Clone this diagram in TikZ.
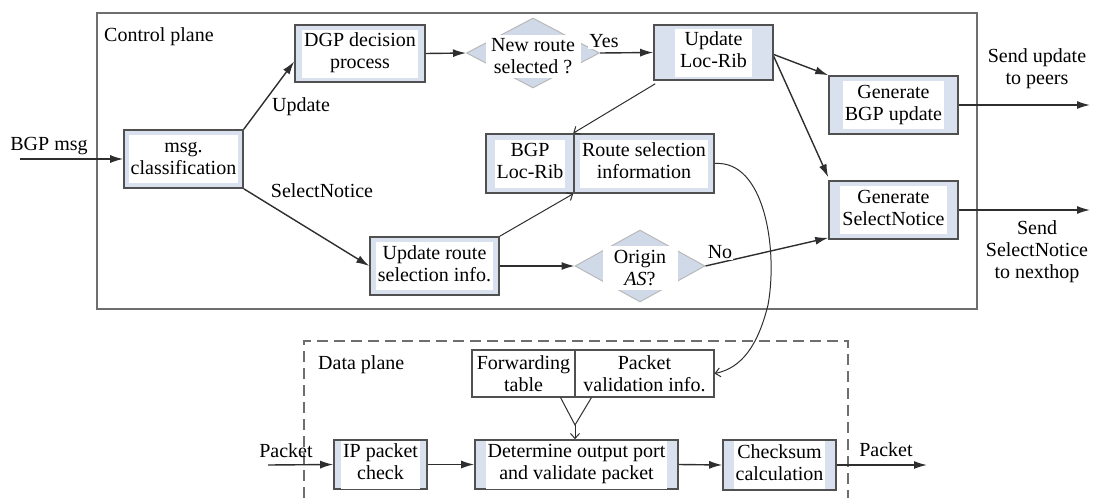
\documentclass[tikz,border=0pt]{standalone}
\usepackage{fontspec}
\setmainfont{LiberationSerif}[Extension=.ttf,UprightFont=*-Regular,ItalicFont=*-Italic,BoldFont=*-Bold]
\usetikzlibrary{arrows.meta,shapes.geometric}
\definecolor{boxblue}{HTML}{D9E1EE}
\definecolor{diablue}{HTML}{D0D9E7}
\definecolor{lineg}{HTML}{2E2E2E}
\definecolor{boxline}{HTML}{505050}
\definecolor{frameg}{HTML}{6E6E6E}
\newcommand\wtxt[1]{{\setlength{\fboxsep}{2pt}\colorbox{white}{\begin{tabular}{@{}c@{}}#1\end{tabular}}}}
\begin{document}
\begin{tikzpicture}[x=1pt,y=-1pt,font=\fontsize{20}{22}\selectfont,
  box/.style={draw=boxline,line width=1.6pt,fill=boxblue,align=center,inner sep=0pt},
  plainbox/.style={draw=boxline,line width=1.1pt,fill=white,align=center,inner sep=0pt},
  dia/.style={diamond,draw=gray!55,line width=1pt,fill=diablue,inner sep=0pt},
  diatext/.style={fill=white,align=center,inner sep=0pt},
  lbl/.style={fill=white,inner sep=1pt,align=center},
  txt/.style={align=center,inner sep=0pt},
  arr/.style={draw=lineg,line width=1.4pt,-{Latex[length=13pt,width=8pt]}},
  oarr/.style={draw=lineg,line width=1pt,-{Straight Barb[length=5pt,width=9pt]}},
  ln/.style={draw=lineg,line width=1pt}]
\useasboundingbox (0,0) rectangle (1093,498);
% frames
\draw[frameg,line width=2.5pt] (97,13) rectangle (977,309);
\draw[frameg,line width=2pt,dash pattern=on 11pt off 6pt] (304,498) -- (304,341) -- (848,341) -- (848,498);
\node[txt,anchor=west] (cp) at (104,37) {Control plane};
\node[txt,anchor=west] (dp) at (318,365) {Data plane};
% control plane nodes
\node[box,minimum width=119,minimum height=58] (msg) at (183.5,159) {\wtxt{msg.\\classification}};
\node[box,minimum width=130,minimum height=57] (dgp) at (360,53.5) {\wtxt{DGP decision\\process}};
\node[dia,minimum width=133,minimum height=70] (d1) at (533,53) {};
\node[diatext,minimum width=95,minimum height=43] (d1t) at (533,56) {New route\\selected ?};
\node[box,minimum width=119,minimum height=55] (ulr) at (713.5,52.5) {\wtxt{\,Update\,\\\,Loc-Rib\,}};
\node[box,minimum width=129,minimum height=58] (gbu) at (893.5,105) {\wtxt{Generate\\BGP update}};
\node[box,minimum width=129,minimum height=58] (gsn) at (893.5,210) {\wtxt{Generate\\SelectNotice}};
\node[box,minimum width=88,minimum height=59] (blr) at (530,163.5) {\wtxt{BGP\\Loc-Rib}};
\node[box,minimum width=140,minimum height=59] (rsi) at (644,163.5) {\wtxt{Route selection\\information}};
\node[box,minimum width=129,minimum height=58] (urs) at (434.5,266) {\wtxt{Update route\\selection info.}};
\node[dia,minimum width=130,minimum height=72] (d2) at (640,266) {};
\node[diatext,minimum width=75,minimum height=44] (d2t) at (640,268) {Origin\\\textit{AS}?};
% data plane nodes
\node[plainbox,minimum width=103,minimum height=47] (ft) at (523.5,373.5) {Forwarding\\table};
\node[plainbox,minimum width=139,minimum height=47] (pvi) at (644.5,373.5) {Packet\\validation info.};
\node[box,minimum width=93,minimum height=49] (ipc) at (380.5,464.5) {\wtxt{IP packet\\check}};
\node[box,minimum width=203,minimum height=49] (det) at (576.5,464.5) {\wtxt{Determine output port\\and validate packet}};
\node[box,minimum width=113,minimum height=50] (chk) at (779.5,465) {\wtxt{Checksum\\calculation}};
% outside texts
\node[txt] (bgpmsg) at (49,146) {BGP msg};
\node[txt] (sup) at (1037,69) {Send update\\to peers};
\node[txt] (ssn) at (1037,252) {Send\\SelectNotice\\to nexthop};
\node[txt] (pkin) at (286,451) {Packet};
\node[txt] (pkout) at (886,450) {Packet};
% free ends
\coordinate (in1) at (20,159);
\coordinate (out1) at (1090,105);
\coordinate (out2) at (1090,210);
\coordinate (pin) at (268,465);
\coordinate (pout) at (927,465);
\coordinate (vj) at (575,425);
% connectors
\draw[arr] (in1) -- (msg.west);
\draw[arr] (msg.north east) -- ([yshift=-8pt]dgp.west);
\draw[arr] (msg.south east) -- (urs.west);
\draw[arr] (dgp.east) -- (d1.west);
\draw[arr] (d1.east) -- (ulr.west);
\draw[arr] ([yshift=-2pt]ulr.east) -- (gbu.north west);
\draw[arr] ([yshift=-4pt]ulr.east) -- ([yshift=3pt]gsn.north west);
\draw[oarr] ([xshift=2pt,yshift=-3pt]ulr.south west) -- (rsi.north west);
\draw[oarr] (urs.north east) -- (rsi.south west);
\draw[arr] (urs.east) -- (d2.west);
\draw[arr] (d2.east) -- ([yshift=2pt]gsn.south west);
\draw[arr] (gbu.east) -- (out1);
\draw[arr] (gsn.east) -- (out2);
\draw[oarr] (rsi.east) .. controls (765,160) and (778,250) .. (768,305) .. controls (758,345) and (742,368) .. (pvi.east);
\draw[ln] ([xshift=-15pt]ft.south east) -- (vj) -- ([xshift=17pt]pvi.south west);
\draw[oarr] (vj) -- (vj |- det.north);
\draw[arr] (pin) -- (ipc.west);
\draw[arr] (ipc.east) -- (det.west);
\draw[arr] (det.east) -- (chk.west);
\draw[arr] (chk.east) -- (pout);
% labels
\node[lbl] (lu) at (301,107) {Update};
\node[lbl] (ls) at (322,191) {SelectNotice};
\node[lbl] (ly) at (604,41) {Yes};
\node[lbl] (lno) at (720,252) {No};
\end{tikzpicture}
\end{document}
